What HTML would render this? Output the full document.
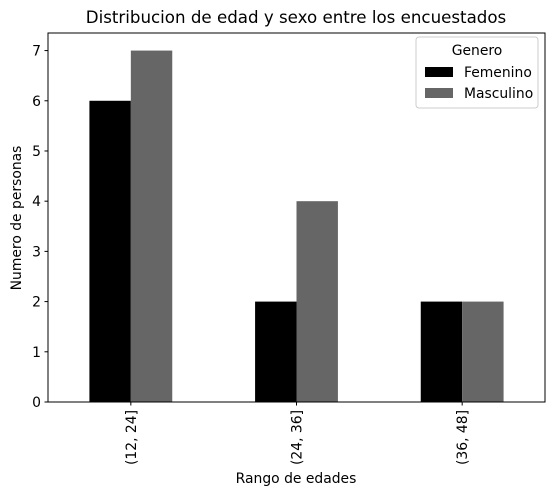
<!DOCTYPE html>
<html><head><meta charset="utf-8"><style>
body{margin:0;background:#fff;}
svg text{font-family:"DejaVu Sans","Liberation Sans",sans-serif;fill:#000;}
</style></head><body>
<svg id="chart" width="554" height="496" xmlns="http://www.w3.org/2000/svg">
<text x="296" y="23" font-size="16.67" text-anchor="middle">Distribucion de edad y sexo entre los encuestados</text>
<g id="bars"></g>
<g id="yticks"></g>
<g id="xticks"></g>
<rect x="48" y="33" width="497" height="369" fill="none" stroke="#000" stroke-width="1"/>
<text x="296" y="483" font-size="13.9" text-anchor="middle">Rango de edades</text>
<text transform="translate(21,218) rotate(-90)" font-size="13.9" text-anchor="middle">Numero de personas</text>
<g>
<rect x="416" y="37" width="122" height="71" rx="3" fill="#fff" stroke="#ccc"/>
<text x="477" y="55" font-size="13.9" text-anchor="middle">Genero</text>
<rect x="425" y="67" width="28" height="10" fill="#000"/>
<text x="464" y="77" font-size="13.9">Femenino</text>
<rect x="425" y="88" width="28" height="10" fill="#666"/>
<text x="464" y="98" font-size="13.9">Masculino</text>
</g>
</svg>
<script>
const categories=["(12, 24]","(24, 36]","(36, 48]"];
const femenino=[6,2,2];
const masculino=[7,4,2];
const yTicks=[0,1,2,3,4,5,6,7];
const NS="http://www.w3.org/2000/svg";
const L=48,R=545,T=33,B=402,yMax=7.35;
const xs=i=>L+(i+0.5)*(R-L)/categories.length;
const ys=v=>B-v*(B-T)/yMax;
const unit=(R-L)/categories.length, bw=unit*0.25;
function mk(tag,attrs,parent){const e=document.createElementNS(NS,tag);for(const k in attrs)e.setAttribute(k,attrs[k]);parent.appendChild(e);return e;}
const gb=document.getElementById('bars'),gy=document.getElementById('yticks'),gx=document.getElementById('xticks');
[[femenino,"#000",-1,"femenino"],[masculino,"#666",0,"masculino"]].forEach(([vals,col,off,nm])=>{
 vals.forEach((v,i)=>{
  const r=mk('rect',{x:xs(i)+off*bw,y:ys(v),width:bw,height:B-ys(v),fill:col},gb);
  
  
 });
});
yTicks.forEach(t=>{
 const y=ys(t);
 const l=mk('line',{x1:L-3.5,x2:L,y1:y,y2:y,stroke:'#000'},gy);
 
 
 const tx=mk('text',{x:L-7,y:y+5,'font-size':13.9,'text-anchor':'end'},gy);
 tx.textContent=t;
 
 
});
categories.forEach((c,i)=>{
 const x=xs(i);
 const l=mk('line',{x1:x,x2:x,y1:B,y2:B+3.5,stroke:'#000'},gx);
 
 
 const tx=mk('text',{transform:`translate(${x+5},${B+8}) rotate(-90)`,'font-size':13.9,'text-anchor':'end'},gx);
 tx.textContent=c;
 
 
});
</script>
</body></html>
